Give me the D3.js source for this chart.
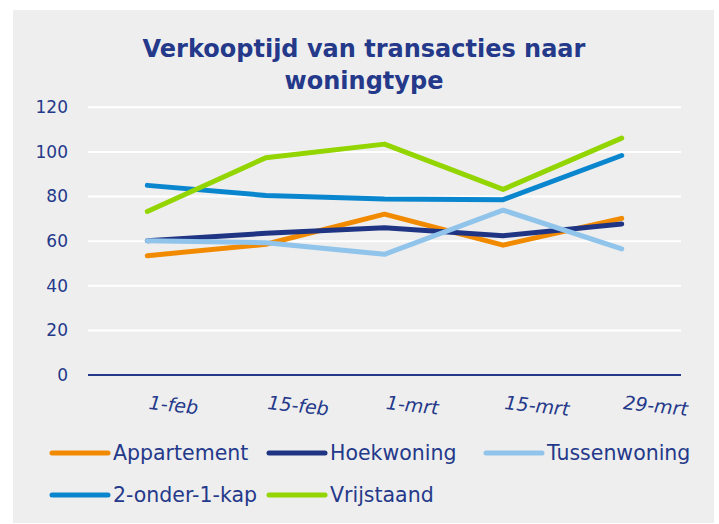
<!DOCTYPE html>
<html>
<head>
  <meta charset="utf-8">
  <script src="https://d3js.org/d3.v7.min.js"></script>
  <style>
    body { margin: 0; background: #fff; }
    text { font-family: "DejaVu Sans", sans-serif; fill: #24398A; }
  </style>
</head>
<body>
<script>
  "use strict";

  // data
  var dates = ["1-feb", "15-feb", "1-mrt", "15-mrt", "29-mrt"];
  var yTicks = [0, 20, 40, 60, 80, 100, 120];
  var seriesNames = ["Appartement", "Hoekwoning", "Tussenwoning", "2-onder-1-kap", "Vrijstaand"];
  var appartement  = [53.5, 58.6, 72.1, 58.2, 70.2];
  var hoekwoning   = [60.2, 63.5, 66.0, 62.4, 67.7];
  var tussenwoning = [60.2, 59.3, 54.1, 73.9, 56.5];
  var onderKap     = [85.0, 80.5, 78.9, 78.6, 98.4];
  var vrijstaand   = [73.3, 97.4, 103.5, 83.2, 106.2];
  var colors = ["#F28A00", "#1F3584", "#91C4EA", "#0A86CE", "#93D500"];

  var series = [appartement, hoekwoning, tussenwoning, onderKap, vrijstaand].map(function (vals, i) {
    return { name: seriesNames[i], color: colors[i], values: vals };
  });

  var W = 719, H = 524;
  var svg = d3.select("body").append("svg")
      .attr("width", W)
      .attr("height", H);

  svg.append("rect")
      .attr("x", 13).attr("y", 10)
      .attr("width", 701).attr("height", 513)
      .attr("fill", "#EEEEEE");

  // title
  var title = svg.append("text")
      .attr("text-anchor", "middle")
      .attr("font-size", 24)
      .attr("font-weight", "bold");
  title.append("tspan").attr("x", 364).attr("y", 57).text("Verkooptijd van transacties naar");
  title.append("tspan").attr("x", 364).attr("y", 89).text("woningtype");

  var plotL = 88, plotR = 681, plotT = 107.3, plotB = 375;

  var x = d3.scalePoint().domain(dates).range([plotL, plotR]).padding(0.5);
  var y = d3.scaleLinear().domain([0, 120]).range([plotB, plotT]);

  // gridlines
  svg.append("g").selectAll("line")
      .data(yTicks.filter(function (d) { return d > 0; }))
      .join("line")
      .attr("x1", plotL).attr("x2", plotR)
      .attr("y1", function (d) { return y(d); })
      .attr("y2", function (d) { return y(d); })
      .attr("stroke", "#FFFFFF")
      .attr("stroke-width", 2);

  // y tick labels
  svg.append("g").selectAll("text")
      .data(yTicks)
      .join("text")
      .attr("x", 68)
      .attr("y", function (d) { return y(d); })
      .attr("dy", "0.35em")
      .attr("text-anchor", "end")
      .attr("font-size", 17)
      .text(function (d) { return d; });

  // x axis baseline
  svg.append("line")
      .attr("x1", plotL).attr("x2", plotR)
      .attr("y1", y(0)).attr("y2", y(0))
      .attr("stroke", "#24398A")
      .attr("stroke-width", 2);

  // x labels, slightly rotated
  svg.append("g").selectAll("text")
      .data(dates)
      .join("text")
      .attr("transform", function (d) { return "translate(" + (x(d) + 1) + ",409) rotate(6)"; })
      .attr("font-size", 19)
      .attr("font-style", "italic")
      .text(function (d) { return d; });

  var line = d3.line()
      .x(function (d, i) { return x(dates[i]); })
      .y(function (d) { return y(d); });

  svg.append("g").selectAll("path")
      .data(series)
      .join("path")
      .attr("d", function (s) { return line(s.values); })
      .attr("fill", "none")
      .attr("stroke", function (s) { return s.color; })
      .attr("stroke-width", 5)
      .attr("stroke-linecap", "round")
      .attr("stroke-linejoin", "round");

  // legend
  var legendPos = [[52, 453], [269, 453], [486, 453], [52, 495], [269, 495]];
  var leg = svg.append("g").selectAll("g")
      .data(series)
      .join("g")
      .attr("transform", function (s, i) { return "translate(" + legendPos[i][0] + "," + legendPos[i][1] + ")"; });
  leg.append("line")
      .attr("x1", 0).attr("x2", 56)
      .attr("stroke", function (s) { return s.color; })
      .attr("stroke-width", 5)
      .attr("stroke-linecap", "round");
  leg.append("text")
      .attr("x", 61)
      .attr("dy", "0.35em")
      .attr("font-size", 20.5)
      .text(function (s) { return s.name; });
</script>
</body>
</html>
